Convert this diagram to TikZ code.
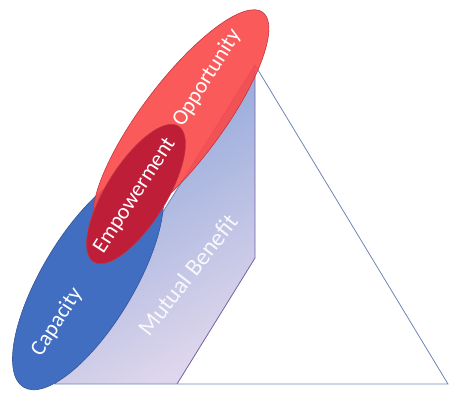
\documentclass[tikz,border=0pt]{standalone}
\usepackage{fontspec}
\setmainfont{Carlito}
\definecolor{capblue}{RGB}{66, 110, 194}
\definecolor{capedge}{RGB}{52, 86, 150}
\definecolor{oppred}{RGB}{250, 72, 72}
\definecolor{oppedge}{RGB}{196, 52, 64}
\definecolor{empred}{RGB}{190, 30, 56}
\definecolor{benblue}{RGB}{136, 162, 216}
\definecolor{benlav}{RGB}{222, 214, 236}
\definecolor{benedge}{RGB}{118, 96, 164}
\definecolor{triline}{RGB}{112, 132, 182}
\usetikzlibrary{positioning}

\begin{document}
\begin{tikzpicture}[x=1pt, y=-1pt]
  \useasboundingbox (0,0) rectangle (449,392);
  \tikzset{lbl/.style={text=white, inner sep=0pt, font=\fontsize{22}{24}\selectfont}}

  % The triangle
  \coordinate (apex) at (255,65);
  \coordinate (baseL) at (55,384);
  \coordinate (baseR) at (448,384);
  \coordinate (benKnee) at (255,258);
  \coordinate (benFoot) at (177,384);

  % Mutual benefit face
  \shade[top color=benblue, bottom color=benlav, shading angle=30]
    (apex) -- (benKnee) -- (benFoot) -- (baseL) -- cycle;
  \draw[benedge, line width=0.8pt] (apex) -- (benKnee) -- (benFoot);
  \draw[triline, line width=0.8pt] (apex) -- (baseR) -- (baseL) -- (apex);

  % Capacity, opportunity, empowerment
  \fill[capblue, draw=capedge, line width=0.6pt, rotate around={59:(88,280)}]
    (88,280) ellipse [x radius=125pt, y radius=46pt];
  \fill[oppred, fill opacity=0.9, draw=oppedge, line width=0.6pt, rotate around={53:(181,121)}]
    (181,121) ellipse [x radius=136pt, y radius=40pt];
  \fill[empred, draw=oppedge, line width=0.6pt, rotate around={58:(136,194)}]
    (136,194) ellipse [x radius=80pt, y radius=30pt];

  % Labels
  \node[lbl, rotate=58] (opp) at (207,78) {Opportunity};
  \node[lbl, rotate=57] (emp) at (135,196) {Empowerment};
  \node[lbl, rotate=57] (cap) at (57,322) {Capacity};
  \node[lbl, rotate=52, text=white!80!benlav, font=\fontsize{24}{26}\selectfont] (ben) at (188,275) {Mutual Benefit};
\end{tikzpicture}
\end{document}
